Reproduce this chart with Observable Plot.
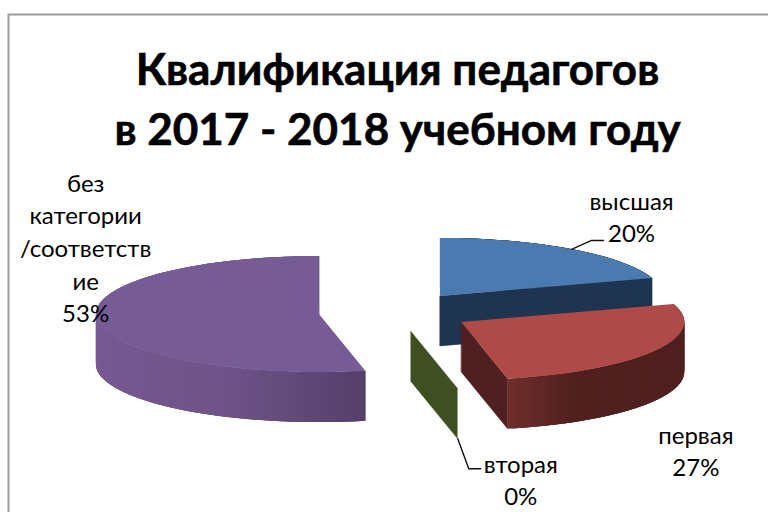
<!DOCTYPE html>
<html><head><meta charset="utf-8">
<script src="https://cdn.jsdelivr.net/npm/d3@7"></script>
<script src="https://cdn.jsdelivr.net/npm/@observablehq/plot@0.6"></script>
<style>html,body{margin:0;padding:0;background:#fff}svg{display:block}</style>
</head><body><div id="chart"></div>
<script>
// Data
const categories = ["высшая", "первая", "вторая", "без категории /соответствие"];
const teachers = [3, 4, 0, 8];
const labelTexts = ["высшая\n20%", "первая\n27%", "вторая\n0%", "без\nкатегории\n/соответств\nие\n53%"];
const titleLines = "Квалификация педагогов\nв 2017 - 2018 учебном году";

// Styles
const topColors = ["#4a7ab0", "#ae4a47", "#4f6228", "#775b94"];
const faceColors = ["#1f344f", "#4f201f", "#3f4f22", "#54406b"];
const wallAngles = [[0, 360], [90, 150, 168], [167, 169], [168, 205, 270, 360]];
const wallColors = [["#1f344f", "#1f344f"], ["#4f201f", "#50201f", "#6f2e2c"], ["#3f4f22", "#3f4f22"], ["#54406b", "#6f5388", "#785b95", "#775b94"]];

// Layout of the exploded tilted pie
const W = 768, H = 512;
const cx = 395, cy = 312, rx = 223, ry = 58, depth = 50, explode = 76.5;
const labelOffsets = [[60, -34], [41, 98], [63, 90], [-12, -74]];
const leaderOffsets = [[[0, 0], [20, -9], [32, -9]], null, [[0, 50], [11, 80], [23, 80]], null];

const total = d3.sum(teachers);
const rad = d => d * Math.PI / 180;
let cum = 0;
const slices = teachers.map((v, i) => {
  const a0 = cum; cum += v / total * 360; const a1 = cum; const mid = (a0 + a1) / 2;
  const ax = cx + explode * Math.sin(rad(mid));
  const ay = cy - explode * (ry / rx) * Math.cos(rad(mid));
  const rim = a => ({x: ax + rx * Math.sin(rad(a)), y: ay - ry * Math.cos(rad(a))});
  return {i, v, a0, a1, mid, ax, ay, rim, shade: d3.scaleLinear(wallAngles[i], wallColors[i])};
});

const marks = [
  Plot.ruleY([14], {x1: 8, x2: W, stroke: "#9c9c9c", strokeWidth: 2}),
  Plot.ruleX([8], {y1: 14, y2: H, stroke: "#9c9c9c", strokeWidth: 2})
];

for (const s of slices) {
  // radial cut face at the end of the slice
  const face = [{x: s.ax, y: s.ay}, s.rim(s.a1)];
  marks.push(Plot.area(face, {x1: "x", x2: "x", y1: "y", y2: d => d.y + depth, fill: faceColors[s.i], stroke: faceColors[s.i], strokeWidth: 0.5, curve: "linear"}));
  // outer wall as overlapping thin strips, shaded by angle
  const step = 1;
  const strips = [];
  let k = 0;
  for (let a = s.a1; a > s.a0; a -= step, k++) {
    const b = Math.max(a - 3, s.a0);
    const c = s.shade(a - step / 2);
    for (const t of [b, a]) strips.push({...s.rim(t), k, c});
  }
  if (strips.length) marks.push(Plot.area(strips, {x1: "x", x2: "x", y1: "y", y2: d => d.y + depth, z: "k", fill: "c", curve: "linear"}));
  // top of the slice
  if (s.v > 0) {
    const fan = d3.range(s.a0, s.a1, 1).map(a => s.rim(a));
    fan.push(s.rim(s.a1));
    marks.push(Plot.area(fan, {x1: "x", y1: "y", x2: () => s.ax, y2: () => s.ay, fill: topColors[s.i], curve: "linear"}));
  }
}

// Leader lines and labels
slices.forEach(s => {
  const m = s.rim(s.mid);
  const [ox, oy] = labelOffsets[s.i];
  const leader = leaderOffsets[s.i];
  if (leader) marks.push(Plot.line(leader.map(([dx, dy]) => ({x: m.x + dx, y: m.y + dy})), {x: "x", y: "y", stroke: "#111", strokeWidth: 1.4, curve: "linear"}));
  marks.push(Plot.text([m], {x: "x", y: "y", dx: ox, dy: oy, text: () => labelTexts[s.i], fontSize: 24, fontFamily: "Lato", fill: "#000", lineHeight: 1.36, lineAnchor: "middle", textAnchor: "middle"}));
});

marks.push(Plot.text([titleLines], {frameAnchor: "top", dx: 13, dy: 42, text: d => d, fontFamily: "Lato", fontWeight: 700, fontSize: 44, fill: "#000", stroke: "#000", strokeWidth: 0.6, lineHeight: 1.36, lineAnchor: "top"}));

const chart = Plot.plot({
  width: W, height: H,
  margin: 0,
  x: {domain: [0, W], range: [0, W], axis: null},
  y: {domain: [0, H], range: [0, H], axis: null},
  style: {background: "#fff"},
  marks
});
document.getElementById("chart").append(chart);
</script></body></html>
